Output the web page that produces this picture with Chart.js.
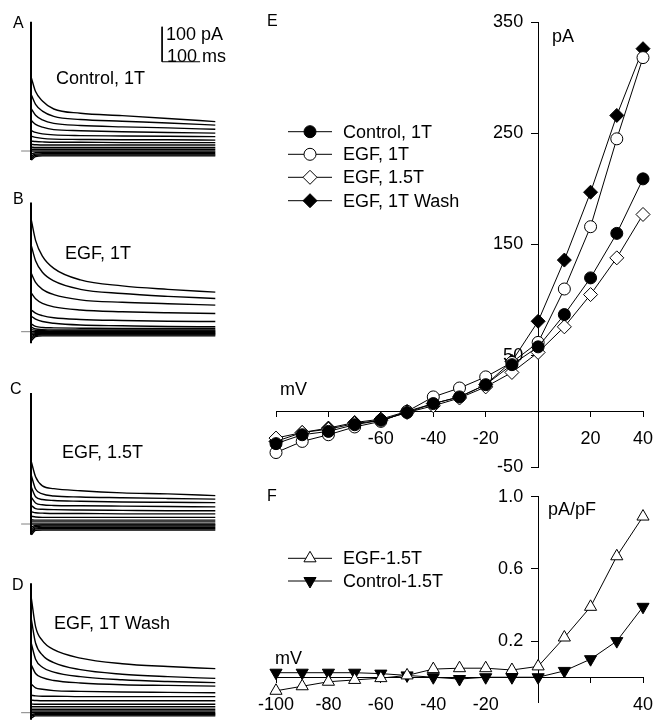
<!DOCTYPE html>
<html>
<head>
<meta charset="utf-8">
<script src="https://cdn.jsdelivr.net/npm/chart.js@4.4.1/dist/chart.umd.min.js"></script>
<style>
  body { margin: 0; background: #fff; }
  #fig { position: relative; width: 654px; height: 720px; overflow: hidden;
         font-family: "Liberation Sans", Arial, sans-serif; color: #000; }
  canvas { position: absolute; }
  .t { position: absolute; line-height: 1; white-space: nowrap; font-size: 18px; }
  .p { font-size: 16px; }
</style>
</head>
<body>
<div id="fig">
  <canvas id="cA" width="200" height="150" style="left:20px;top:15px"></canvas>
  <canvas id="cB" width="200" height="150" style="left:20px;top:195px"></canvas>
  <canvas id="cC" width="200" height="155" style="left:20px;top:385px"></canvas>
  <canvas id="cD" width="200" height="145" style="left:20px;top:575px"></canvas>
  <canvas id="cE" width="436" height="490" style="left:230px;top:0px"></canvas>
  <canvas id="cF" width="436" height="250" style="left:230px;top:474px"></canvas>

  <div class="t p" style="left:13px;top:15px">A</div>
  <div class="t p" style="left:13px;top:191px">B</div>
  <div class="t p" style="left:10px;top:381px">C</div>
  <div class="t p" style="left:12px;top:577px">D</div>
  <div class="t p" style="left:267px;top:13px">E</div>
  <div class="t p" style="left:267px;top:488px">F</div>

  <div class="t" style="left:56px;top:69px">Control, 1T</div>
  <div class="t" style="left:65px;top:244px">EGF, 1T</div>
  <div class="t" style="left:62px;top:443px">EGF, 1.5T</div>
  <div class="t" style="left:54px;top:614px">EGF, 1T Wash</div>
  <div class="t" style="left:166px;top:25px">100 pA</div>
  <div class="t" style="left:167px;top:47px">100 ms</div>

  <div class="t" style="left:552px;top:27px">pA</div>
  <div class="t" style="left:280px;top:380px">mV</div>
  <div class="t" style="left:548px;top:500px">pA/pF</div>
  <div class="t" style="left:275px;top:649px">mV</div>
</div>

<script>
// current traces (pA), one row per voltage step from +40 down to -100 mV
const traceTimes = [1, 12, 30, 60, 130, 240, 360, 485];

const tracesA = [
  [209, 170, 143, 120, 108, 101, 93, 84],
  [160, 133, 114, 99, 90, 85, 80, 74],
  [120, 102, 89, 79, 73, 69, 66, 62],
  [87, 76, 68, 61, 58, 55, 53, 51],
  [58, 53, 49, 46, 44, 43, 42, 41],
  [42, 39, 36, 34, 33, 32, 32, 31],
  [28, 27, 26, 25, 25, 24, 24, 24],
  [19, 18, 17, 17, 17, 17, 17, 17],
  [11, 10, 10, 10, 10, 10, 10, 10],
  [5, 5, 5, 5, 5, 5, 5, 5],
  [0, 0, 0, 0, 0, 0, 0, 0],
  [-8, -5, -4, -4, -4, -4, -4, -4],
  [-14, -9, -8, -8, -8, -8, -8, -8],
  [-20, -12, -11, -11, -11, -11, -11, -11],
  [-26, -16, -14, -14, -14, -14, -14, -14],
];

const tracesB = [
  [318, 261, 216, 181, 148, 131, 121, 113],
  [245, 203, 170, 145, 121, 109, 101, 95],
  [166, 141, 121, 106, 91, 84, 80, 76],
  [110, 94, 81, 71, 62, 57, 54, 52],
  [62, 53, 46, 40, 35, 32, 30, 29],
  [44, 36, 29, 24, 19, 17, 15, 14],
  [22, 15, 12, 11, 10, 9, 9, 9],
  [13, 8, 6, 5, 5, 5, 5, 5],
  [6, 4, 3, 2, 2, 2, 2, 2],
  [0, 0, 0, 0, 0, 0, 0, 0],
  [-5, -3, -3, -3, -3, -3, -3, -3],
  [-10, -6, -5, -5, -5, -5, -5, -5],
  [-15, -8, -7, -7, -7, -7, -7, -7],
  [-20, -11, -9, -9, -9, -9, -9, -9],
  [-26, -14, -12, -12, -12, -12, -12, -12],
];

const tracesC = [
  [177, 135, 109, 101, 95, 89, 86, 81],
  [138, 100, 86, 80, 77, 75, 73, 71],
  [105, 78, 70, 67, 65, 63, 62, 61],
  [76, 60, 55, 53, 52, 51, 50, 49],
  [53, 44, 42, 41, 40, 39, 38, 38],
  [35, 32, 31, 30, 30, 29, 29, 29],
  [22, 20, 19, 19, 19, 19, 19, 19],
  [12, 11, 11, 11, 11, 11, 11, 11],
  [6, 6, 6, 6, 6, 6, 6, 6],
  [0, 0, 0, 0, 0, 0, 0, 0],
  [-8, -4, -3, -3, -3, -3, -3, -3],
  [-14, -7, -6, -6, -6, -6, -6, -6],
  [-20, -11, -10, -10, -10, -10, -10, -10],
  [-26, -14, -13, -13, -13, -13, -13, -13],
  [-31, -18, -17, -17, -17, -17, -17, -17],
];

const tracesD = [
  [326, 246, 206, 180, 156, 140, 132, 126],
  [266, 199, 165, 143, 123, 110, 103, 98],
  [197, 153, 130, 116, 103, 94, 89, 86],
  [136, 112, 100, 92, 85, 80, 78, 76],
  [81, 71, 67, 63, 61, 59, 58, 57],
  [50, 48, 47, 47, 46, 46, 46, 46],
  [36, 35, 34, 34, 34, 34, 34, 34],
  [25, 24, 24, 24, 24, 24, 24, 24],
  [17, 17, 17, 17, 17, 17, 17, 17],
  [10, 10, 10, 10, 10, 10, 10, 10],
  [5, 5, 5, 5, 5, 5, 5, 5],
  [0, 0, 0, 0, 0, 0, 0, 0],
  [-6, -3, -3, -3, -3, -3, -3, -3],
  [-10, -6, -6, -6, -6, -6, -6, -6],
  [-15, -9, -9, -9, -9, -9, -9, -9],
];

// capacitive transient at step onset [min, max] pA
const spikeA = [-26, 369];
const spikeB = [-33, 369];
const spikeC = [-31, 374];
const spikeD = [-20, 370];

const baselineTime = [-26, 0];
const scaleBarTime = [345, 345, 445];
const scaleBarCurrent = [355, 255, 255];

// I-V data
const mV = [-100, -90, -80, -70, -60, -50, -40, -30, -20, -10, 0, 10, 20, 30, 40];
const control1T = [-29, -21, -18, -12, -8, -1, 7, 13, 24, 42, 58, 87, 120, 160, 209];
const egf1T = [-37, -27, -21, -14, -9, 0, 13, 21, 31, 44, 62, 110, 166, 245, 318];
const egf15T = [-24, -19, -16, -11, -8, -1, 5, 12, 22, 35, 53, 76, 105, 138, 177];
const egf1TWash = [-27, -19, -15, -10, -7, 0, 7, 13, 24, 45, 81, 136, 197, 266, 326];

const egf15TDensity = [-0.075, -0.05, -0.025, -0.015, -0.005, 0.01, 0.045, 0.05, 0.05, 0.04, 0.06, 0.22, 0.39, 0.67, 0.89];
const control15TDensity = [0.025, 0.025, 0.025, 0.025, 0.02, 0.01, 0, -0.01, 0, 0, 0, 0.035, 0.1, 0.2, 0.39];

const eXTicks = [-100, -80, -60, -40, -20, 0, 20, 40];
const eXLabels = [-60, -40, -20, 20, 40];
const eYTicks = [-50, 50, 150, 250, 350];
const fXTicks = [-100, -80, -60, -40, -20, 0, 20, 40];
const fXLabels = [-100, -80, -60, -40, -20, 40];
const fYTicks = [0.2, 0.6, 1.0];

const PX_PER_PA = 0.35;
const PX_PER_MS = 0.38;
const tickFont = { family: '"Liberation Sans", Arial, sans-serif', size: 18 };

// left panels
function tracePanel(canvasId, traces, spike, basePx, scaleBar) {
  const canvas = document.getElementById(canvasId);
  const h = canvas.height, w = canvas.width;
  const datasets = traces.map((tr) => ({
    data: traceTimes.map((t, i) => ({ x: t, y: tr[i] })),
    borderColor: "#000",
    borderWidth: 1.4,
    pointRadius: 0,
    cubicInterpolationMode: "monotone",
    clip: false,
  }));
  datasets.push({
    data: spike.map((v) => ({ x: 0, y: v })),
    borderColor: "#000",
    borderWidth: 2,
    pointRadius: 0,
    clip: false,
  });
  datasets.push({
    data: baselineTime.map((t) => ({ x: t, y: 0 })),
    borderColor: "#808080",
    borderWidth: 1,
    pointRadius: 0,
  });
  if (scaleBar) {
    datasets.push({
      data: scaleBarTime.map((t, i) => ({ x: t, y: scaleBarCurrent[i] })),
      borderColor: "#000",
      borderWidth: 1,
      pointRadius: 0,
    });
  }
  return new Chart(canvas, {
    type: "line",
    data: { datasets: datasets },
    options: {
      responsive: false,
      animation: false,
      events: [],
      layout: { padding: 0 },
      plugins: { legend: { display: false }, tooltip: { enabled: false } },
      scales: {
        x: { type: "linear", display: false, min: -11 / PX_PER_MS, max: (w - 11) / PX_PER_MS },
        y: { type: "linear", display: false, min: -(h - basePx) / PX_PER_PA, max: basePx / PX_PER_PA },
      },
    },
  });
}

tracePanel("cA", tracesA, spikeA, 136, true);
tracePanel("cB", tracesB, spikeB, 136.7, false);
tracePanel("cC", tracesC, spikeC, 139, false);
tracePanel("cD", tracesD, spikeD, 137.7, false);

// legend with line through marker
const lineLegend = {
  id: "lineLegend",
  afterDatasetsDraw(chart, args, opts) {
    const ctx = chart.ctx;
    ctx.save();
    chart.data.datasets.forEach((ds, i) => {
      const y = opts.rows[i];
      ctx.strokeStyle = "#000";
      ctx.lineWidth = 1;
      ctx.beginPath();
      ctx.moveTo(opts.x1, y);
      ctx.lineTo(opts.x2, y);
      ctx.stroke();
      ctx.fillStyle = ds.pointBackgroundColor;
      ctx.strokeStyle = "#000";
      ctx.lineWidth = 1;
      Chart.helpers.drawPoint(ctx, {
        pointStyle: ds.pointStyle,
        radius: ds.pointRadius,
        rotation: ds.pointRotation || 0,
        borderWidth: 1,
      }, (opts.x1 + opts.x2) / 2, y);
      ctx.fillStyle = "#000";
      ctx.font = '18px "Liberation Sans", Arial, sans-serif';
      ctx.textBaseline = "middle";
      ctx.textAlign = "left";
      ctx.fillText(ds.label, opts.textX, y + 1);
    });
    ctx.restore();
  },
};

function series(label, xs, ys, style, radius, fill, rotation) {
  return {
    label: label,
    data: xs.map((v, i) => ({ x: v, y: ys[i] })),
    borderColor: "#000",
    borderWidth: 1,
    pointStyle: style,
    pointRadius: radius,
    pointRotation: rotation || 0,
    pointBackgroundColor: fill,
    pointBorderColor: "#000",
    pointBorderWidth: 1,
    tension: 0,
    clip: false,
  };
}

function axisX(ticks, labels, min, max) {
  return {
    type: "linear",
    min: min,
    max: max,
    position: { y: 0 },
    afterBuildTicks: (s) => { s.ticks = ticks.map((v) => ({ value: v })); },
    ticks: {
      autoSkip: false,
      maxRotation: 0,
      color: "#000",
      font: tickFont,
      padding: 12,
      callback: (v) => (labels.includes(v) ? String(v) : ""),
    },
    grid: { drawOnChartArea: false, color: "#000", tickLength: 5 },
    border: { color: "#000", width: 1 },
  };
}

// labels of a value-positioned y axis sit right on the axis line, so pad them with spaces
function axisY(ticks, min, max, fmt) {
  return {
    type: "linear",
    min: min,
    max: max,
    position: { x: 0 },
    afterBuildTicks: (s) => { s.ticks = ticks.map((v) => ({ value: v })); },
    ticks: { autoSkip: false, color: "#000", font: tickFont, padding: 9, callback: (v) => fmt(v) + "   " },
    grid: { drawOnChartArea: false, color: "#000", tickLength: 7 },
    border: { color: "#000", width: 1 },
  };
}

var chartE = new Chart(document.getElementById("cE"), {
  type: "line",
  data: {
    datasets: [
      series("Control, 1T", mV, control1T, "circle", 6, "#000"),
      series("EGF, 1T", mV, egf1T, "circle", 6, "#fff"),
      series("EGF, 1.5T", mV, egf15T, "rectRot", 7, "#fff"),
      series("EGF, 1T Wash", mV, egf1TWash, "rectRot", 7, "#000"),
    ],
  },
  options: {
    responsive: false,
    animation: false,
    events: [],
    layout: { padding: { left: 46, right: 23, top: 22, bottom: 23 } },
    plugins: {
      legend: { display: false },
      tooltip: { enabled: false },
      lineLegend: { x1: 58, x2: 102, textX: 113, rows: [131.7, 154.3, 177.3, 200.7] },
    },
    scales: {
      x: axisX(eXTicks, eXLabels, -100, 40),
      y: axisY(eYTicks, -50, 350, (v) => String(v)),
    },
  },
  plugins: [lineLegend],
});

var chartF = new Chart(document.getElementById("cF"), {
  type: "line",
  data: {
    datasets: [
      series("EGF-1.5T", mV, egf15TDensity, "triangle", 7, "#fff"),
      series("Control-1.5T", mV, control15TDensity, "triangle", 7, "#000", 180),
    ],
  },
  options: {
    responsive: false,
    animation: false,
    events: [],
    layout: { padding: { left: 46, right: 23, top: 22.7, bottom: 21.5 } },
    plugins: {
      legend: { display: false },
      tooltip: { enabled: false },
      lineLegend: { x1: 58, x2: 102, textX: 113, rows: [84.3, 107] },
    },
    scales: {
      x: axisX(fXTicks, fXLabels, -100, 40),
      y: axisY(fYTicks, -0.14, 1.0, (v) => v.toFixed(1)),
    },
  },
  plugins: [lineLegend],
});
</script>
</body>
</html>
